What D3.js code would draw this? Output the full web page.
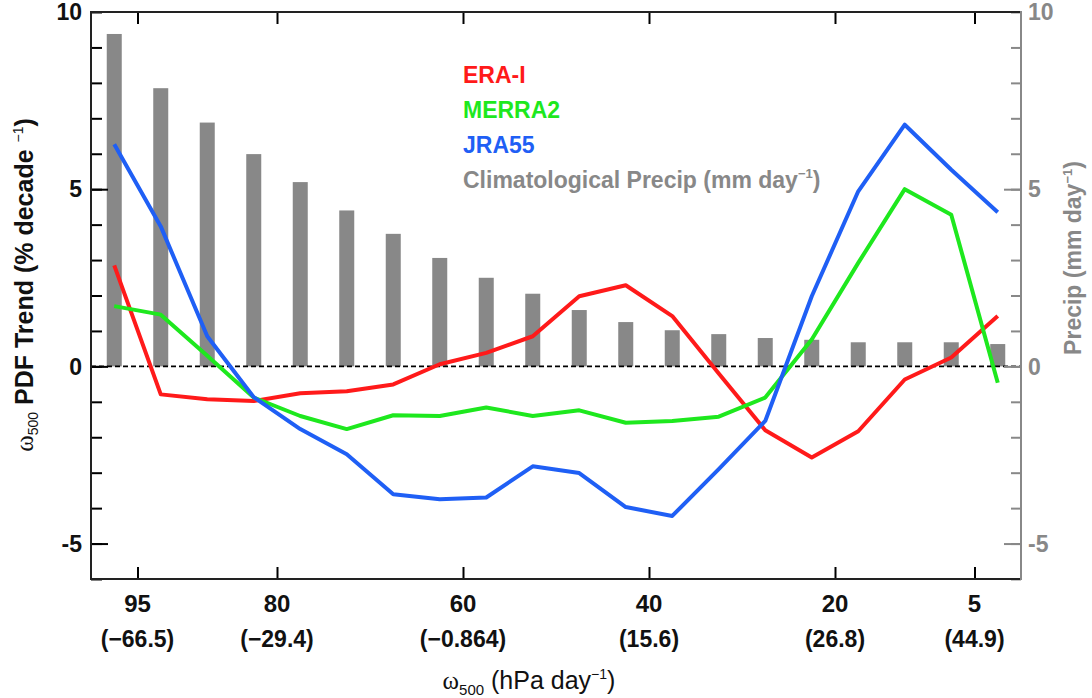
<!DOCTYPE html>
<html>
<head>
<meta charset="utf-8">
<script src="https://cdn.jsdelivr.net/npm/d3@7"></script>
<style>
  body { margin: 0; background: #fff; }
  svg { display: block; font-family: "Liberation Sans", Arial, Helvetica, sans-serif; }
</style>
</head>
<body>
<div id="chart"></div>
<script>
// percentile bin centres (omega500 PDF percentile, 100 = strongest ascent)
const binCenters = [97.5, 92.5, 87.5, 82.5, 77.5, 72.5, 67.5, 62.5, 57.5, 52.5,
                    47.5, 42.5, 37.5, 32.5, 27.5, 22.5, 17.5, 12.5, 7.5, 2.5];
const precip = [9.38, 7.85, 6.88, 5.99, 5.20, 4.40, 3.74, 3.06, 2.50, 2.05,
                1.59, 1.25, 1.02, 0.91, 0.80, 0.75, 0.68, 0.68, 0.68, 0.63];
const eraI   = [2.85, -0.79, -0.93, -0.98, -0.76, -0.70, -0.51, 0.06, 0.38, 0.85,
                1.98, 2.29, 1.42, -0.20, -1.80, -2.57, -1.83, -0.37, 0.25, 1.42];
const merra2 = [1.70, 1.46, 0.30, -0.88, -1.40, -1.77, -1.38, -1.40, -1.16, -1.40,
                -1.24, -1.59, -1.54, -1.42, -0.88, 0.76, 2.92, 5.00, 4.28, -0.46];
const jra55  = [6.27, 3.95, 0.85, -0.87, -1.77, -2.48, -3.61, -3.75, -3.70, -2.82,
                -3.01, -3.97, -4.22, -2.90, -1.54, 1.98, 4.94, 6.82, 5.55, 4.35];

const xTicks = [95, 80, 60, 40, 20, 5];
const xSubLabels = ["(\u221266.5)", "(\u221229.4)", "(\u22120.864)", "(15.6)", "(26.8)", "(44.9)"];
const yLabelTicks = [10, 5, 0, -5];

const series = [
  { name: "ERA-I", values: eraI, color: "#ff1a1a" },
  { name: "MERRA2", values: merra2, color: "#1ee81e" },
  { name: "JRA55", values: jra55, color: "#1f5ff5" }
];

const W = 1092, H = 698;
const plotL = 91, plotR = 1021, plotT = 12, plotB = 579;
const grey = "#888888";

const svg = d3.select("#chart").append("svg")
  .attr("width", W).attr("height", H);

const x = d3.scaleLinear().domain([100, 0]).range([plotL, plotR]);
const y = d3.scaleLinear().domain([-6, 10]).range([plotB, plotT]);

// precip bars (right axis shares the same numeric range)
svg.append("g").selectAll("rect")
  .data(precip)
  .join("rect")
  .attr("x", (d, i) => x(binCenters[i]) - 7.5)
  .attr("width", 15)
  .attr("y", d => y(d))
  .attr("height", d => y(0) - y(d))
  .attr("fill", grey);

// zero line
svg.append("line")
  .attr("x1", plotL).attr("x2", plotR)
  .attr("y1", y(0)).attr("y2", y(0))
  .attr("stroke", "#000").attr("stroke-width", 1.6)
  .attr("stroke-dasharray", "5,3");

// lines
const line = d3.line()
  .x((d, i) => x(binCenters[i]))
  .y(d => y(d));

svg.append("g").selectAll("path")
  .data(series)
  .join("path")
  .attr("d", d => line(d.values))
  .attr("fill", "none")
  .attr("stroke", d => d.color)
  .attr("stroke-width", 4)
  .attr("stroke-linejoin", "round");

// left axis ticks (inward)
const minor = d3.range(-6, 11);
const leftMinor = svg.append("g").attr("transform", `translate(${plotL},0)`)
  .call(d3.axisRight(y).tickValues(minor).tickSize(11).tickFormat(""));
const leftMajor = svg.append("g").attr("transform", `translate(${plotL},0)`)
  .call(d3.axisRight(y).tickValues([5, 0, -5]).tickSize(17).tickFormat(""));
[leftMinor, leftMajor].forEach(g => {
  g.select(".domain").remove();
  g.selectAll("line").attr("stroke", "#000").attr("stroke-width", 2);
});

svg.append("g").selectAll("text")
  .data(yLabelTicks)
  .join("text")
  .attr("x", 82)
  .attr("y", d => y(d))
  .attr("dy", "0.36em")
  .attr("text-anchor", "end")
  .attr("font-size", 23)
  .attr("font-weight", "bold")
  .attr("fill", "#111")
  .text(d => d < 0 ? "-" + Math.abs(d) : d);

// right axis ticks (inward, grey)
const rightMinor = svg.append("g").attr("transform", `translate(${plotR},0)`)
  .call(d3.axisLeft(y).tickValues(minor).tickSize(10).tickFormat(""));
const rightMajor = svg.append("g").attr("transform", `translate(${plotR},0)`)
  .call(d3.axisLeft(y).tickValues([5, 0, -5]).tickSize(17).tickFormat(""));
[rightMinor, rightMajor].forEach(g => {
  g.select(".domain").remove();
  g.selectAll("line").attr("stroke", grey).attr("stroke-width", 2);
});

svg.append("g").selectAll("text")
  .data(yLabelTicks)
  .join("text")
  .attr("x", 1028)
  .attr("y", d => y(d))
  .attr("dy", "0.36em")
  .attr("font-size", 23)
  .attr("font-weight", "bold")
  .attr("fill", grey)
  .text(d => d < 0 ? "-" + Math.abs(d) : d);

// top and bottom ticks
const topAxis = svg.append("g").attr("transform", `translate(0,${plotT})`)
  .call(d3.axisBottom(x).tickValues(xTicks).tickSize(12).tickFormat(""));
const botAxis = svg.append("g").attr("transform", `translate(0,${plotB})`)
  .call(d3.axisTop(x).tickValues(xTicks).tickSize(12).tickFormat(""));
[topAxis, botAxis].forEach(g => {
  g.select(".domain").remove();
  g.selectAll("line").attr("stroke", "#000").attr("stroke-width", 2);
});

// frame
svg.append("path")
  .attr("d", `M${plotR},${plotT}H${plotL}V${plotB}H${plotR}`)
  .attr("fill", "none").attr("stroke", "#222").attr("stroke-width", 2);
svg.append("line")
  .attr("x1", plotR).attr("x2", plotR).attr("y1", plotT - 1).attr("y2", plotB + 1)
  .attr("stroke", grey).attr("stroke-width", 2);

// x tick labels
svg.append("g").selectAll("text")
  .data(xTicks)
  .join("text")
  .attr("x", d => x(d))
  .attr("y", 612)
  .attr("text-anchor", "middle")
  .attr("font-size", 24)
  .attr("font-weight", "bold")
  .attr("fill", "#111")
  .text(d => d);

svg.append("g").selectAll("text")
  .data(xSubLabels)
  .join("text")
  .attr("x", (d, i) => x(xTicks[i]))
  .attr("y", 647)
  .attr("text-anchor", "middle")
  .attr("font-size", 23)
  .attr("font-weight", "bold")
  .attr("fill", "#111")
  .text(d => d);

// x axis title
const xt = svg.append("text")
  .attr("x", 529).attr("y", 689)
  .attr("text-anchor", "middle")
  .attr("font-size", 25)
  .attr("fill", "#111");
xt.append("tspan").attr("font-family", "'Liberation Serif', serif").text("\u03c9");
xt.append("tspan").attr("font-size", 15).attr("dy", 6).text("500");
xt.append("tspan").attr("dy", -6).text(" (hPa day");
xt.append("tspan").attr("font-size", 14).attr("dy", -10).text("\u22121");
xt.append("tspan").attr("dy", 10).text(")");

// left y title
const yt = svg.append("text")
  .attr("transform", "translate(33,285) rotate(-90)")
  .attr("text-anchor", "middle")
  .attr("font-size", 25)
  .attr("fill", "#111");
yt.append("tspan").attr("font-family", "'Liberation Serif', serif").attr("font-weight", "normal").text("\u03c9");
yt.append("tspan").attr("font-size", 14).attr("dy", 5).text("500");
yt.append("tspan").attr("dy", -5).attr("font-weight", "bold").text(" PDF Trend (% decade ");
yt.append("tspan").attr("font-size", 14).attr("dy", -10).text("\u22121");
yt.append("tspan").attr("dy", 10).attr("font-weight", "bold").text(")");

// right y title
const rt = svg.append("text")
  .attr("transform", "translate(1081,258) rotate(-90)")
  .attr("text-anchor", "middle")
  .attr("font-size", 23)
  .attr("font-weight", "bold")
  .attr("fill", grey);
rt.append("tspan").text("Precip (mm day");
rt.append("tspan").attr("font-size", 13).attr("dy", -9).text("\u22121");
rt.append("tspan").attr("dy", 9).text(")");

// legend
const legendItems = series.map(s => ({ name: s.name, color: s.color }));
svg.append("g").selectAll("text")
  .data(legendItems)
  .join("text")
  .attr("x", 463)
  .attr("y", (d, i) => 83 + i * 35)
  .attr("font-size", 23)
  .attr("font-weight", "bold")
  .attr("fill", d => d.color)
  .text(d => d.name);

const lt = svg.append("text")
  .attr("x", 463).attr("y", 188)
  .attr("font-size", 23)
  .attr("font-weight", "bold")
  .attr("fill", grey);
lt.append("tspan").text("Climatological Precip (mm day");
lt.append("tspan").attr("font-size", 13).attr("dy", -10).text("\u22121");
lt.append("tspan").attr("dy", 10).text(")");
</script>
</body>
</html>
